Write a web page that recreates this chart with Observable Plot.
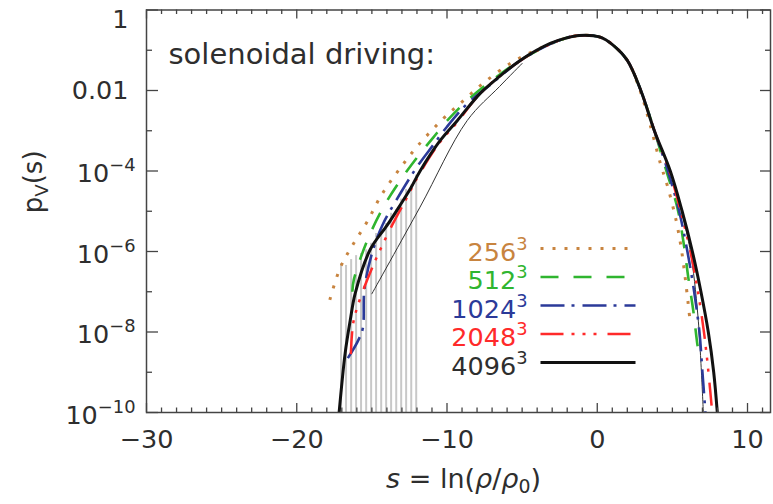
<!DOCTYPE html>
<html>
<head>
<meta charset="utf-8">
<script src="https://cdn.jsdelivr.net/npm/d3@7"></script>
<script src="https://cdn.jsdelivr.net/npm/@observablehq/plot@0.6"></script>
<style>
  html, body { margin: 0; padding: 0; background: #fff; }
  svg { display: block; }
</style>
</head>
<body>
<script>
// ---------------- data ----------------
const s256 = [-17.8,-17.1,-16.3,-15.3,-14.4,-13.3,-12.0,-10.25,-9.0,-7.6,-5.8,-4.4,-3.0,-2.1,-1.2,0.2,1.07,2.0,2.85,3.5,4.2,4.7,5.25,5.58,5.82,6.03,6.17];
const p256 = [6.3e-8,4.0e-7,1.4e-6,5.6e-6,2.4e-5,9.5e-5,4.0e-4,2.0e-3,5.25e-3,1.5e-2,4.7e-2,8.9e-2,1.5e-1,2.0e-1,2.34e-1,2.11e-1,1.32e-1,5.6e-2,1.0e-2,1.5e-3,1.55e-4,3.9e-5,5.9e-6,1.26e-6,2.8e-7,6.0e-8,1.95e-8];

const s512 = [-16.3,-16.2,-15.31,-14.25,-13.12,-11.98,-10.92,-9.99,-8.66,-7.12,-5.13,-3.0,-2.1,-1.2,0.2,1.07,2.0,2.9,3.8,4.6,5.33,5.75,6.06,6.4,6.66,6.75];
const p512 = [1.0e-7,2.0e-7,1.86e-6,1.23e-5,5.75e-5,2.19e-4,6.76e-4,1.78e-3,5.6e-3,1.66e-2,5.6e-2,1.5e-1,2.0e-1,2.34e-1,2.11e-1,1.32e-1,5.6e-2,1.0e-2,1.0e-3,1.0e-4,1.23e-5,1.6e-6,2.24e-7,3.2e-8,5.0e-9,3.2e-9];

const s1024 = [-16.6,-15.9,-15.6,-15.5,-15.0,-14.3,-13.1,-12.0,-10.9,-10.0,-8.7,-7.1,-5.13,-3.0,-2.1,-1.2,0.2,1.07,2.0,2.9,3.8,4.7,5.45,6.0,6.45,6.8,7.0,7.2];
const p1024 = [2.24e-9,6.3e-9,1.26e-8,1.12e-7,8.9e-7,4.5e-6,2.8e-5,1.26e-4,4.5e-4,1.26e-3,4.5e-3,1.41e-2,5.5e-2,1.5e-1,2.0e-1,2.34e-1,2.11e-1,1.32e-1,5.6e-2,1e-2,1e-3,1e-4,1e-5,1e-6,1e-7,1e-8,1e-9,1e-10];

const s2048 = [-16.4,-16.25,-15.9,-15.0,-13.9,-12.8,-11.8,-10.5,-9.3,-7.8,-5.13,-3.0,-2.1,-1.2,0.2,1.07,2.0,2.9,3.8,4.8,5.55,6.2,6.7,7.1,7.4,7.65];
const p2048 = [2.8e-9,1.6e-8,5.0e-8,3.8e-7,2.95e-6,1.78e-5,8.9e-5,5.0e-4,1.66e-3,8.3e-3,5.5e-2,1.5e-1,2.0e-1,2.34e-1,2.11e-1,1.32e-1,5.6e-2,1e-2,1e-3,1e-4,1e-5,1e-6,1e-7,1e-8,1e-9,1e-10];

const s4096 = [-17.18,-16.78,-16.44,-16.11,-15.11,-13.98,-13.12,-12.45,-11.78,-10.45,-9.32,-7.79,-6.5,-5.13,-3.13,-2.1,-1.2,0.2,1.07,2.0,2.9,3.8,4.86,5.65,6.33,6.9,7.39,7.75,7.99];
const p4096 = [1e-10,2.95e-9,1.95e-8,9.1e-8,1.12e-6,4.5e-6,1.41e-5,3.55e-5,1.02e-4,5.75e-4,1.78e-3,8.5e-3,2.24e-2,5.6e-2,1.48e-1,2.0e-1,2.34e-1,2.11e-1,1.32e-1,5.6e-2,1.0e-2,1.0e-3,1.0e-4,1.0e-5,1.0e-6,1.0e-7,1.0e-8,1.0e-9,1.0e-10];

// thin envelope lines of the 4096^3 run
const sEnvL = [-15.0,-11.8,-8.66,-6.5,-5.0];
const pEnvL = [8.9e-8,1.26e-5,1.78e-3,1.26e-2,4.7e-2];
const sEnvR = [5.6,6.19,6.7,7.06];
const pEnvR = [1e-5,1.05e-6,2.5e-8,1e-10];

// grey error bars in the low-density tail
const sBars = [-17.05,-16.72,-16.38,-16.05,-15.72,-15.38,-15.05,-14.72,-14.38,-14.05,-13.72,-13.38,-13.05,-12.72,-12.38,-12.05];
const pBarTop = [5.0e-7,4.5e-7,6.3e-7,7.9e-7,8.9e-7,1.1e-6,1.6e-6,2.8e-6,3.2e-6,5.0e-6,8.9e-6,1.1e-5,2.0e-5,3.5e-5,4.5e-5,7.9e-5];

const legendLabels = ["256^{3}", "512^{3}", "1024^{3}", "2048^{3}", "4096^{3}"];
const xMajor = [-30, -20, -10, 0, 10];
const xMajorLabels = ["\u221230", "\u221220", "\u221210", "0", "10"];
const xMinor = [-29,-28,-27,-26,-25,-24,-23,-22,-21,-19,-18,-17,-16,-15,-14,-13,-12,-11,-9,-8,-7,-6,-5,-4,-3,-2,-1,1,2,3,4,5,6,7,8,9,11];
const yMajor = [1, 1e-2, 1e-4, 1e-6, 1e-8, 1e-10];
const yMajorLabels = ["1", "0.01", "10^{\u22124}", "10^{\u22126}", "10^{\u22128}", "10^{\u221210}"];
const yMinor = [1e-1, 1e-3, 1e-5, 1e-7, 1e-9];
const annotation = "solenoidal driving:";
const xTitle = "*s* = ln(*\u03c1*/*\u03c1*_{0})";
const yTitle = "p_{V}(s)";

// ---------------- layout ----------------
const W = 773, H = 504;
const mL = 146, mR = 3, mT = 9.5, mB = 92;
const frameW = W - mL - mR, frameH = H - mT - mB;
const xDomain = [-30, 11.53];
const yDomain = [1e-10, 1];
const xs = Plot.scale({x: {domain: xDomain, range: [mL, W - mR]}});
const ys = Plot.scale({y: {type: "log", domain: yDomain, range: [H - mB, mT]}});

const series = [
  {s: s256,  p: p256,  color: "#c8843f", dash: "3,9",               width: 3.0},
  {s: s512,  p: p512,  color: "#2fb52f", dash: "18,15",             width: 2.6},
  {s: s1024, p: p1024, color: "#2b3a99", dash: "24,7,3,8",          width: 2.6},
  {s: s2048, p: p2048, color: "#ff2a2a", dash: "23,8,3,8,3,8,3,11", width: 2.5},
  {s: s4096, p: p4096, color: "#111111", dash: null,                width: 3.0}
];
const table = (s, p) => s.map((v, i) => ({s: v, p: p[i]}));

const ink = "#444";
const txt = "#2e2e2e";
// inward tick marks on all four sides
const xTick = (vals, side, len) => Plot.tickX(vals, {
  x: d => d, stroke: ink, strokeWidth: 1.3,
  [side === "bottom" ? "insetTop" : "insetBottom"]: frameH - len
});
const yTick = (vals, side, len) => Plot.tickY(vals, {
  y: d => d, stroke: ink, strokeWidth: 1.3,
  [side === "left" ? "insetRight" : "insetLeft"]: frameW - len
});

const marks = [
  // grey error bars
  Plot.ruleX(table(sBars, pBarTop), {x: "s", y1: yDomain[0], y2: "p", stroke: "#c8c8c8", strokeWidth: 2}),
  // thin envelopes
  Plot.line(table(sEnvL, pEnvL), {x: "s", y: "p", stroke: "#333", strokeWidth: 1, curve: "catmull-rom"}),
  Plot.line(table(sEnvR, pEnvR), {x: "s", y: "p", stroke: "#333", strokeWidth: 1, curve: "catmull-rom"})
];

series.forEach((d) => {
  marks.push(Plot.line(table(d.s, d.p), {
    x: "s", y: "p", stroke: d.color, strokeWidth: d.width,
    strokeDasharray: d.dash, strokeLinecap: "butt", curve: "catmull-rom", clip: true
  }));
});

// legend (in-plot)
series.forEach((d, i) => {
  const rowY = ys.invert(248 + 28.5 * i);
  marks.push(Plot.link([legendLabels[i]], {
    x1: () => xs.invert(540), x2: () => xs.invert(635), y1: () => rowY, y2: () => rowY,
    stroke: d.color, strokeWidth: d.width, strokeDasharray: d.dash, strokeLinecap: "butt"
  }));
  marks.push(Plot.text([legendLabels[i]], {
    x: () => xs.invert(527), y: () => rowY, text: t => t, textAnchor: "end",
    dy: 4, fontSize: 25.5, fill: d.color === "#111111" ? txt : d.color
  }));
});

// tick labels and titles
const yTab = yMajor.map((v, i) => ({v, label: yMajorLabels[i]}));
marks.push(
  Plot.text(yTab.filter(d => d.v === 1), {y: "v", text: "label", frameAnchor: "left", textAnchor: "end", dx: -18, dy: 10, fontSize: 25.5, fill: txt}),
  Plot.text(yTab.filter(d => d.v === 1e-2), {y: "v", text: "label", frameAnchor: "left", textAnchor: "end", dx: -18, dy: 0, fontSize: 25.5, fill: txt}),
  Plot.text(yTab.filter(d => d.v < 1e-2), {y: "v", text: "label", frameAnchor: "left", textAnchor: "end", dx: -11, dy: 3, fontSize: 25.5, fill: txt}),
  Plot.text(xMajor.map((v, i) => ({v, label: xMajorLabels[i]})), {x: "v", text: "label", frameAnchor: "bottom", dy: 35, fontSize: 25.5, fill: txt}),
  Plot.text([xTitle], {text: d => d, frameAnchor: "bottom", dx: 5, dy: 75, fontSize: 27, fill: txt}),
  Plot.text([yTitle], {text: d => d, frameAnchor: "left", dx: -113, dy: 2, rotate: -90, fontSize: 26, fill: txt}),
  Plot.text([annotation], {text: d => d, frameAnchor: "top-left", textAnchor: "start", dx: 22, dy: 33, fontSize: 29, fill: txt})
);

// frame and ticks drawn last
marks.push(
  Plot.frame({stroke: ink, strokeWidth: 1.5}),
  yTick(yMajor, "left", 12),
  yTick(yMinor, "left", 6),
  yTick(yMajor, "right", 10),
  yTick(yMinor, "right", 5),
  xTick(xMajor, "bottom", 9),
  xTick(xMinor, "bottom", 4.5),
  xTick(xMajor, "top", 9),
  xTick(xMinor, "top", 4.5)
);

const chart = Plot.plot({
  width: W, height: H,
  marginLeft: mL, marginRight: mR, marginTop: mT, marginBottom: mB,
  x: {domain: xDomain, axis: null},
  y: {type: "log", domain: yDomain, axis: null},
  style: {fontFamily: "'DejaVu Sans', sans-serif", background: "#fff", color: txt},
  marks
});
document.body.appendChild(chart);

// rich text: ^{sup}, _{sub}, *italic*
function rich(svg) {
  const ns = "http://www.w3.org/2000/svg";
  const re = /\^\{([^}]*)\}|_\{([^}]*)\}|\*([^*]*)\*|([^\^_*]+)/g;
  for (const t of svg.querySelectorAll("text")) {
    const raw = t.textContent;
    if (!/[\^_]\{|\*/.test(raw)) continue;
    const fs = parseFloat(getComputedStyle(t).fontSize) || 16;
    while (t.firstChild) t.removeChild(t.firstChild);
    let shift = 0;
    let m;
    re.lastIndex = 0;
    while ((m = re.exec(raw)) !== null) {
      const ts = document.createElementNS(ns, "tspan");
      let target = 0, size = null, content;
      if (m[1] != null) { content = m[1]; target = -0.42 * fs; size = 0.7 * fs; }
      else if (m[2] != null) { content = m[2]; target = 0.22 * fs; size = 0.7 * fs; }
      else if (m[3] != null) { content = m[3]; ts.setAttribute("font-style", "italic"); }
      else content = m[4];
      if (target !== shift) { ts.setAttribute("dy", (target - shift).toFixed(2)); shift = target; }
      if (size) ts.setAttribute("font-size", size.toFixed(2));
      ts.textContent = content;
      t.appendChild(ts);
    }
  }
}
rich(chart);
</script>
</body>
</html>
